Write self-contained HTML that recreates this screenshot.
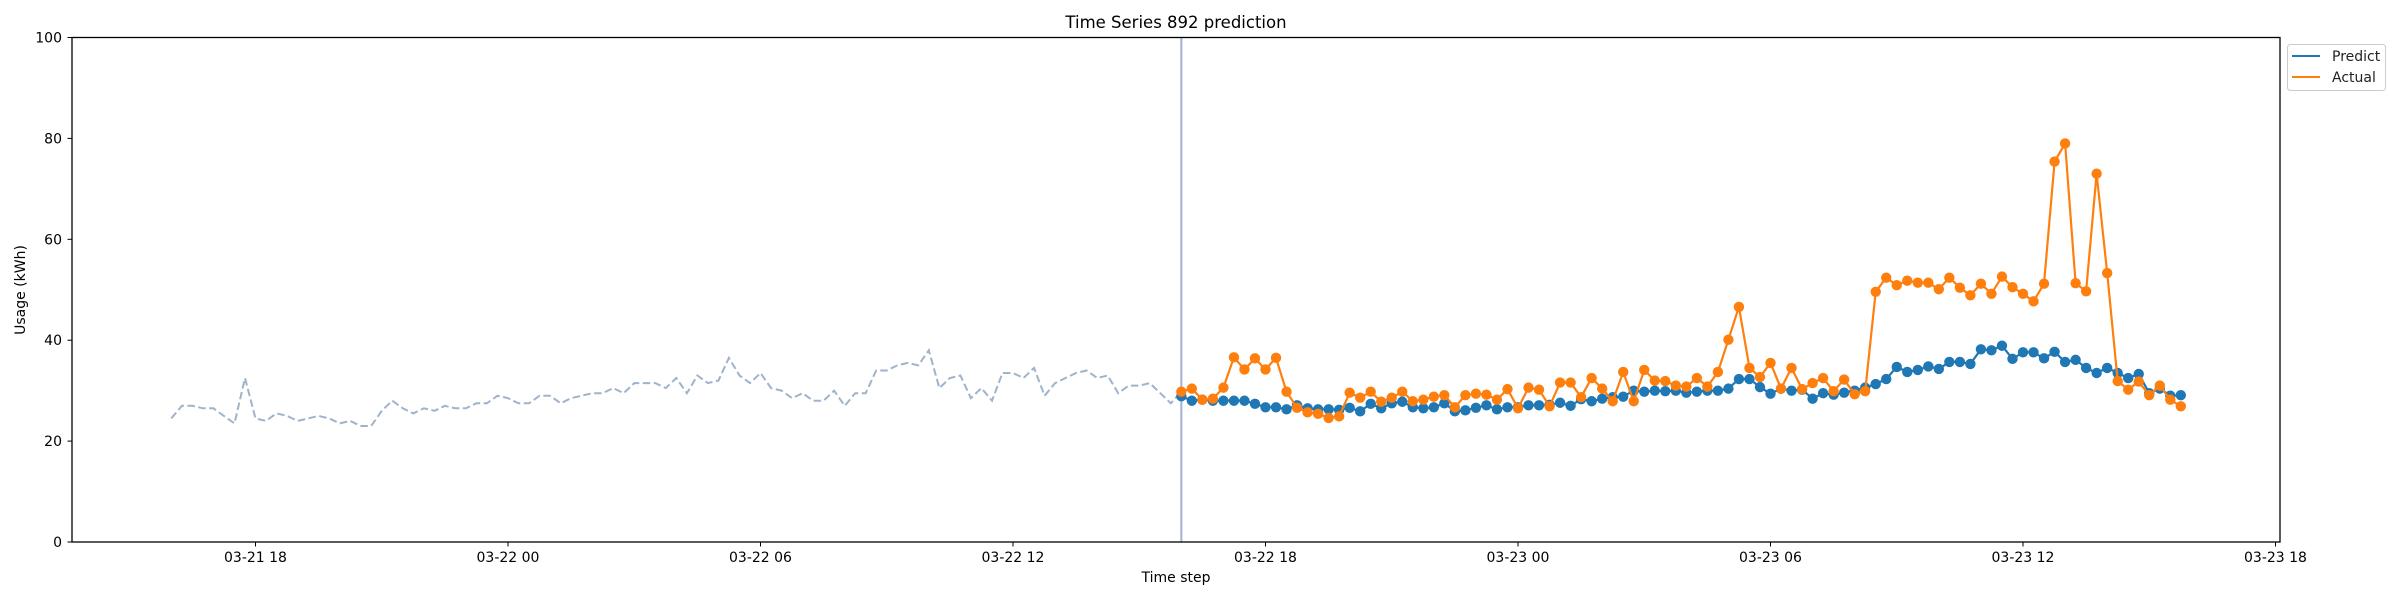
<!DOCTYPE html>
<html><head><meta charset="utf-8"><style>
html,body{margin:0;padding:0;background:#fff;}
svg{display:block;font-family:"DejaVu Sans","Liberation Sans",sans-serif;}
</style></head><body>
<svg id="chart" width="2400" height="600" viewBox="0 0 2400 600">
<text x="1176" y="28" font-size="16.5" text-anchor="middle" fill="#000">Time Series 892 prediction</text>
<text x="1176" y="582" font-size="14" text-anchor="middle" fill="#000">Time step</text>
<text x="0" y="0" font-size="14" text-anchor="middle" fill="#000" transform="translate(25,290) rotate(-90)">Usage (kWh)</text>
<g id="marks"></g>
<rect x="72" y="37.5" width="2208" height="504.5" fill="none" stroke="#000" stroke-width="1.3"/>
<g>
<rect x="2287.5" y="44.5" width="98" height="46" rx="3" fill="#fff" stroke="#ccc"/>
<line x1="2292" y1="56" x2="2320" y2="56" stroke="#1f77b4" stroke-width="2"/>
<text x="2332" y="61" font-size="14" fill="#222">Predict</text>
<line x1="2292" y1="77" x2="2320" y2="77" stroke="#ff7f0e" stroke-width="2"/>
<text x="2332" y="82" font-size="14" fill="#222">Actual</text>
</g>
</svg>
<script>
const yTicks = [0, 20, 40, 60, 80, 100];
const xTickHours = [2, 8, 14, 20, 26, 32, 38, 44, 50];
const xTickLabels = ["03-21 18","03-22 00","03-22 06","03-22 12","03-22 18","03-23 00","03-23 06","03-23 12","03-23 18"];
const history = [24.5,27,27,26.5,26.5,25,23.5,32.5,24.5,24,25.5,25,24,24.5,25,24.5,23.5,24,23,23,26,28,26.5,25.5,26.5,26,27,26.5,26.5,27.5,27.5,29,28.5,27.5,27.5,29,29,27.5,28.5,29,29.5,29.5,30.5,29.5,31.5,31.5,31.5,30.5,32.5,29.5,33,31.5,32,36.5,33,31.5,33.5,30.5,30,28.5,29.5,28,28,30,27,29.5,29.5,34,34,35,35.5,35,38,30.5,32.5,33,28.5,30.5,28,33.5,33.5,32.5,34.5,29,31.5,32.5,33.5,34,32.5,33,29.5,31,31,31.5,29.5,27.5];
const predict = [28.9,28.0,28.2,28.0,28.0,28.0,28.0,27.4,26.7,26.7,26.3,27.1,26.5,26.3,26.3,26.2,26.6,25.9,27.4,26.5,27.5,27.8,26.7,26.5,26.7,27.5,25.9,26.1,26.6,27.1,26.3,26.7,26.7,27.1,27.1,27.2,27.6,27.0,28.3,27.9,28.4,28.7,28.8,30.0,29.8,30.0,29.9,30.0,29.6,29.8,30.0,30.0,30.4,32.3,32.3,30.7,29.4,30.4,30.0,30.2,28.4,29.5,29.2,29.6,30.0,30.6,31.3,32.3,34.7,33.7,34.1,34.8,34.3,35.7,35.7,35.3,38.2,38.0,38.9,36.3,37.6,37.6,36.4,37.7,35.7,36.1,34.5,33.5,34.5,33.5,32.5,33.3,29.5,30.4,29.0,29.1];
const actual = [29.8,30.4,28.2,28.4,30.6,36.6,34.2,36.4,34.2,36.5,29.8,26.6,25.7,25.4,24.6,24.9,29.6,28.6,29.8,27.8,28.6,29.8,27.9,28.2,28.8,29.1,26.7,29.1,29.4,29.2,28.2,30.3,26.5,30.6,30.2,26.9,31.6,31.6,28.7,32.5,30.4,27.9,33.7,27.9,34.1,32.0,31.9,31.0,30.8,32.5,30.8,33.7,40.1,46.6,34.5,32.7,35.5,30.4,34.5,30.3,31.5,32.5,29.9,32.2,29.3,29.9,49.6,52.4,50.9,51.8,51.4,51.4,50.1,52.4,50.4,48.9,51.2,49.2,52.6,50.5,49.2,47.7,51.2,75.4,79.0,51.3,49.7,73.0,53.3,31.9,30.2,31.8,29.1,31.0,28.2,26.9];

const NS = "http://www.w3.org/2000/svg";
const svg = document.getElementById("chart");
const g = document.getElementById("marks");
const X0 = 255.5, PXH = 252.5/6, Y0 = 542, PXU = 5.045;
const forecastStartHour = 24;
function xScale(h){ return X0 + (h - 2) * PXH; }
function yScale(v){ return Y0 - v * PXU; }
function mk(tag, attrs, parent){ const e = document.createElementNS(NS, tag); for (const k in attrs) e.setAttribute(k, attrs[k]); (parent||g).appendChild(e); return e; }

yTicks.forEach(v => {
  const t = mk("line", {x1:67.5, x2:72, y1:yScale(v), y2:yScale(v), stroke:"#000", "stroke-width":1});
  
  
  const l = mk("text", {x:62, y:yScale(v)+5, "font-size":14, "text-anchor":"end", fill:"#000"}, svg);
  l.textContent = v;
  
  
});
xTickHours.forEach((h, i) => {
  const t = mk("line", {x1:xScale(h), x2:xScale(h), y1:542, y2:546.5, stroke:"#000", "stroke-width":1});
  
  
  const l = mk("text", {x:xScale(h), y:562, "font-size":14, "text-anchor":"middle", fill:"#000"}, svg);
  l.textContent = xTickLabels[i];
  
  
});

const step = 0.25;
const histStart = forecastStartHour - history.length * step;
let hp = history.map((v,i) => xScale(histStart + i*step).toFixed(1) + "," + yScale(v).toFixed(1));
hp.push(xScale(forecastStartHour).toFixed(1) + "," + yScale(actual[0]).toFixed(1));
const hl = mk("polyline", {points: hp.join(" "), fill:"none", stroke:"#9fb3cc", "stroke-width":2, "stroke-dasharray":"7.5,3.5"});



const vl = mk("line", {x1:xScale(forecastStartHour), x2:xScale(forecastStartHour), y1:37.5, y2:542, stroke:"#a4b0d4", "stroke-width":2});



function series(arr, color, name){
  const pts = arr.map((v,i) => xScale(forecastStartHour + i*step).toFixed(1) + "," + yScale(v).toFixed(1)).join(" ");
  const pl = mk("polyline", {points: pts, fill:"none", stroke: color, "stroke-width":2.2});
  
  
  arr.forEach((v,i) => {
    const c = mk("circle", {cx: xScale(forecastStartHour + i*step), cy: yScale(v), r:5.2, fill: color});
    
    
  });
}
series(predict, "#1f77b4", "predict");
series(actual, "#ff7f0e", "actual");
</script>
</body></html>
